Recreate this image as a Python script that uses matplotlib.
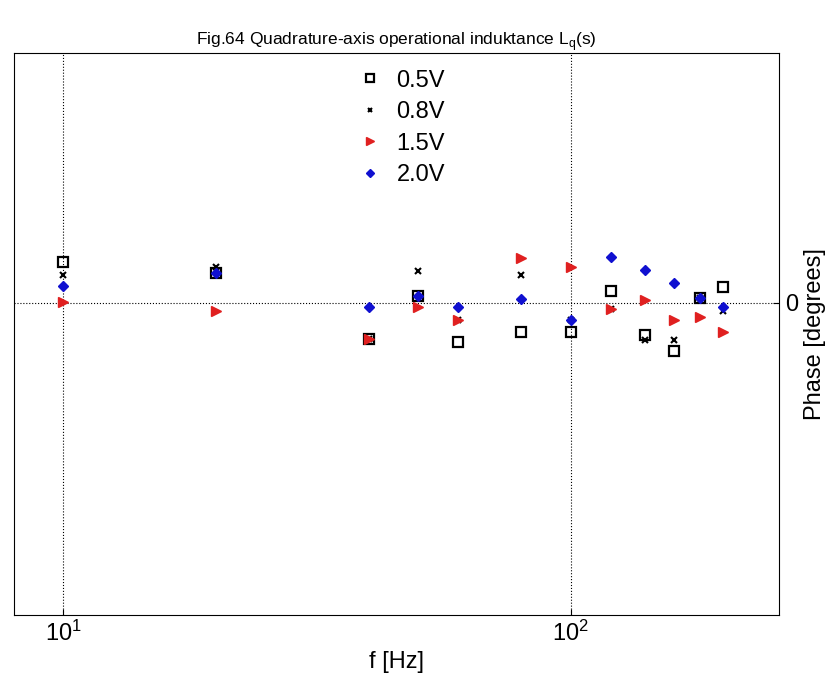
import numpy as np
import matplotlib
matplotlib.use('Agg')
import matplotlib.pyplot as plt

plt.rcParams['font.family'] = ['Liberation Sans', 'DejaVu Sans']

freq = [10, 20, 40, 50, 60, 80, 100, 120, 140, 160, 180, 200]

# phase values
phase_05 = [0.66, 0.48, -0.58, 0.11, -0.63, -0.46, -0.46, 0.19, -0.51, -0.77, 0.08, 0.26]
phase_08 = [0.45, 0.58, -0.58, 0.51, -0.27, 0.45, -0.27, -0.10, -0.59, -0.59, 0.08, -0.13]
phase_15 = [0.02, -0.13, -0.58, -0.06, -0.27, 0.71, 0.58, -0.10, 0.05, -0.27, -0.22, -0.46]
phase_20 = [0.27, 0.48, -0.06, 0.11, -0.06, 0.06, -0.27, 0.74, 0.53, 0.32, 0.08, -0.06]

labels = ['0.5V', '0.8V', '1.5V', '2.0V']

fig = plt.figure(figsize=(8.3, 6.81), dpi=100)
ax = fig.add_axes([0.017, 0.097, 0.922, 0.825])

ax.semilogx(freq, phase_05, 's', mfc='none', mec='black', mew=1.6, ms=6.5, label=labels[0])
ax.semilogx(freq, phase_08, 'x', color='black', mew=1.5, ms=4, label=labels[1])
ax.semilogx(freq, phase_15, '>', color='#e02020', ms=6.5, label=labels[2])
ax.semilogx(freq, phase_20, 'D', color='#1010d0', ms=5, label=labels[3])

ax.set_xlim(8, 258)
ax.set_ylim(-5, 4)

ax.set_xticks([10, 100])
ax.xaxis.set_minor_locator(matplotlib.ticker.NullLocator())
ax.set_xticklabels(['$\\mathregular{10^1}$', '$\\mathregular{10^2}$'], fontsize=17)

ax.yaxis.tick_right()
ax.yaxis.set_label_position('right')
ax.set_yticks([0])
ax.set_yticklabels(['0'], fontsize=17)
ax.set_ylabel('Phase [degrees]', fontsize=17, labelpad=4)
ax.set_xlabel('f [Hz]', fontsize=17, labelpad=4)

ax.tick_params(direction='in', length=4, width=0.8, pad=4)
ax.grid(True, which='major', color='black', linestyle=':', linewidth=0.8)

ax.set_title('Fig.64 Quadrature-axis operational induktance L$_\\mathregular{q}$(s)',
             fontsize=12.5, pad=6)

ax.legend(loc='upper center', bbox_to_anchor=(0.505, 1.0), frameon=False,
          fontsize=17, handletextpad=0.5, labelspacing=0.4, markerscale=0.8,
          handlelength=1.2, borderaxespad=0.3)

fig.savefig('out.png', dpi=100)
